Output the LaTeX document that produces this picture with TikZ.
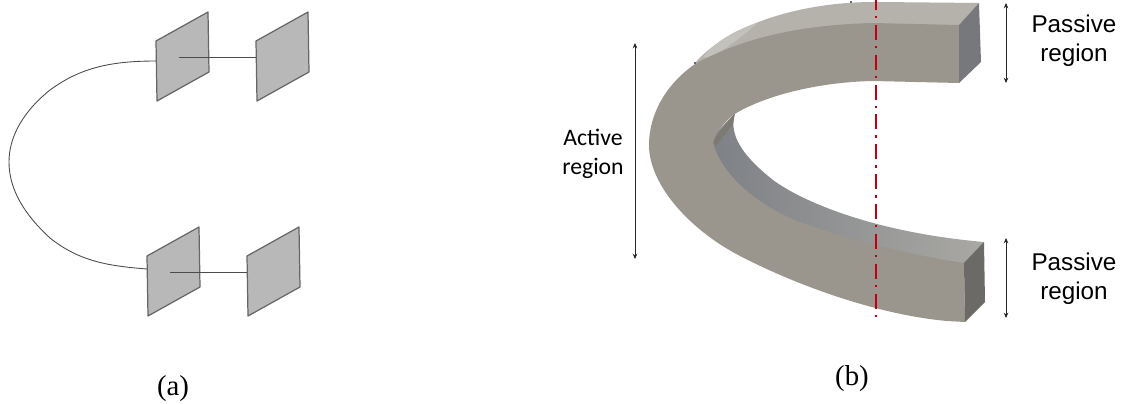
\documentclass[tikz,border=0pt]{standalone}
\usepackage{fontspec}
\usetikzlibrary{arrows.meta}
\setmainfont{Liberation Serif}
\newfontfamily\arialfont{Liberation Sans}
\newfontfamily\calibrifont{Carlito}
\definecolor{platefill}{HTML}{B8B8B8}
\definecolor{plateedge}{HTML}{666666}
\definecolor{frontface}{HTML}{9B968D}
\definecolor{topface}{HTML}{B4B2AB}
\definecolor{toplight}{HTML}{C2C1BB}
\definecolor{holedark}{HTML}{7D8085}
\definecolor{holemid}{HTML}{95969A}
\definecolor{holelight}{HTML}{A9A8A4}
\definecolor{wedge}{HTML}{7E7A72}
\definecolor{endupper}{HTML}{77787C}
\definecolor{endlower}{HTML}{6B6A66}
\definecolor{speck}{HTML}{3A3D55}
\definecolor{axisred}{HTML}{C00010}
\tikzset{
    plate/.style={fill=platefill,draw=plateedge,line width=.7pt,line join=round},
    wire/.style={draw=black!70,line width=.5pt},
    span/.style={{Stealth[length=3pt,width=2.6pt]}-{Stealth[length=3pt,width=2.6pt]},draw=black!85,line width=.55pt},
    caption/.style={font=\fontsize{16.4}{20}\selectfont,inner sep=0pt},
    passive/.style={font=\arialfont\fontsize{13.8}{16.5}\selectfont,align=center,inner sep=0pt},
    active/.style={font=\calibrifont\fontsize{13.5}{16.5}\selectfont,align=center,inner sep=0pt}
}
\begin{document}
\begin{tikzpicture}[x=.02cm, y=-.02cm]
\useasboundingbox (0,0) rectangle (1127,403);
% (a)
\foreach \x/\y in {156/41,256/41,147/256,247/256}
{
    \draw[plate](\x,\y)--++(52,-29)--++(1,60)--++(-52,29)--cycle;
}
\coordinate (leadA) at (179,57);
\coordinate (padB) at (256,57);
\coordinate (leadC) at (170,272);
\coordinate (padD) at (247,272);
\coordinate (padA) at (156,61);
\coordinate (padC) at (147,269);
\draw[wire](leadA)--(padB);
\draw[wire](leadC)--(padD);
\draw[wire](padA) .. controls (110,61) and (80,68) .. (50,90) .. controls (25,110) and (9,135) .. (9,162)
    .. controls (9,190) and (25,215) .. (50,238) .. controls (80,262) and (110,266) .. (padC);
\node[caption] (capa) at (173,389) {(a)};
% (b)
\fill[topface](695,63) .. controls (725,28) and (795,1) .. (880,2)--(979,3)--(959,25)--(873,30)--(740,60)--cycle;
\fill[toplight](703,57) .. controls (715,42) and (735,30) .. (757,23) .. controls (745,35) and (730,45) .. (712,58)--cycle;
\shade[left color=holedark,middle color=holemid,right color=holelight]
    (735,113) .. controls (730,130) and (735,150) .. (773,180) .. controls (800,200) and (870,232) .. (984,242)
    --(964,275)--(873,262)--(760,215)--(717,175)--(705,145)--cycle;
\fill[wedge](735,113)--(713,141)--(716,146)--(733,124)--cycle;
\fill[frontface](695,64) .. controls (735,42) and (790,25) .. (873,23)--(959,25)--(959,83)--(873,81)
    .. controls (820,82) and (765,95) .. (733,115) .. controls (725,122) and (715,133) .. (713,143)
    .. controls (725,185) and (775,213) .. (800,222) .. controls (850,240) and (910,255) .. (964,263)
    --(965,322)--(947,321) .. controls (880,315) and (800,287) .. (740,256)
    .. controls (690,230) and (649,185) .. (649,145) .. controls (649,115) and (665,85) .. (695,64)--cycle;
\fill[endupper](959,25)--(979,3)--(981,62)--(959,83)--cycle;
\fill[endlower](964,263)--(984,242)--(985,302)--(965,322)--cycle;
\fill[speck](851,2)circle(1.2);
\fill[speck](695,63)circle(1.2);
\draw[axisred,line width=1.3pt,dash pattern=on 8.5pt off 3.4pt on 1.4pt off 3.7pt,dash phase=2.85pt](876,0)--(876,318);
\coordinate (activetop) at (635,43);
\coordinate (activebot) at (635,259);
\coordinate (uppertop) at (1006,3);
\coordinate (upperbot) at (1006,83);
\coordinate (lowertop) at (1006,238);
\coordinate (lowerbot) at (1006,318);
\draw[span](activetop)--(activebot);
\draw[span](uppertop)--(upperbot);
\draw[span](lowertop)--(lowerbot);
\node[active] (activelabel) at (593,154) {Active\\region};
\node[passive] (upperlabel) at (1074,41) {Passive\\region};
\node[passive] (lowerlabel) at (1074,279) {Passive\\region};
\node[caption] (capb) at (852,379) {(b)};
\end{tikzpicture}
\end{document}
